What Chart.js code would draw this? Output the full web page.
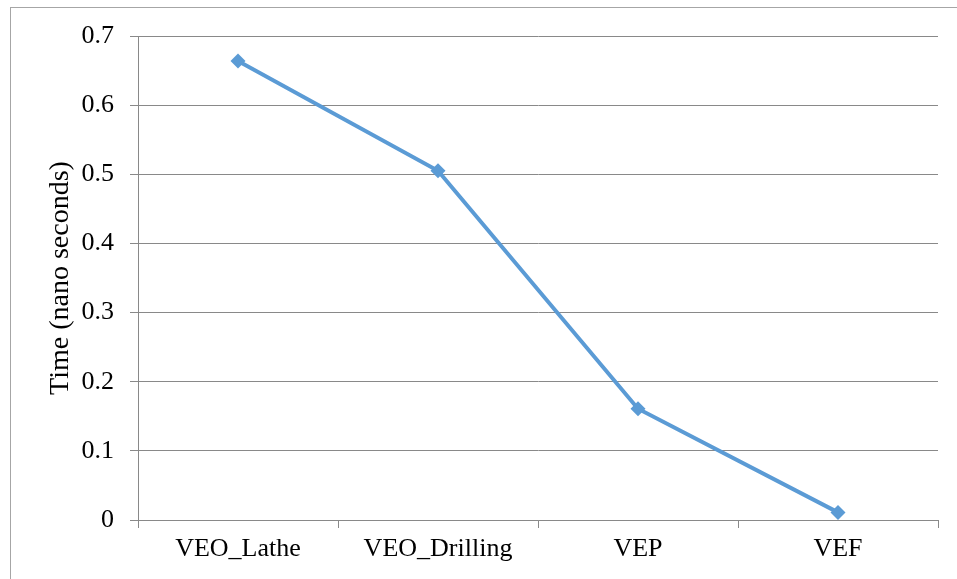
<!DOCTYPE html>
<html>
<head>
<meta charset="utf-8">
<script src="https://cdn.jsdelivr.net/npm/chart.js@4/dist/chart.umd.min.js"></script>
<style>
  html, body { margin: 0; padding: 0; background: #fff; }
  #wrap { width: 957px; height: 579px; position: relative; }
</style>
</head>
<body>
<div id="wrap"><canvas id="c" width="957" height="579"></canvas></div>
<script>
const categories = ["VEO_Lathe", "VEO_Drilling", "VEP", "VEF"];
const timeValues = [0.664, 0.505, 0.161, 0.011];
const yTickValues = [0, 0.1, 0.2, 0.3, 0.4, 0.5, 0.6, 0.7];
const yTickLabels = ["0", "0.1", "0.2", "0.3", "0.4", "0.5", "0.6", "0.7"];
const yTitle = "Time (nano seconds)";

const FONT = "'Liberation Serif', 'Times New Roman', serif";
const GRID = "#898989";
const LINE = "#5B9BD5";

const outerBorder = {
  id: 'outerBorder',
  beforeDraw(chart) {
    const ctx = chart.ctx;
    ctx.save();
    ctx.fillStyle = '#fff';
    ctx.fillRect(0, 0, chart.width, chart.height);
    ctx.strokeStyle = '#a6a6a6';
    ctx.lineWidth = 1;
    ctx.strokeRect(10.5, 7.5, 2000, 2000);
    ctx.restore();
  }
};

new Chart(document.getElementById('c'), {
  type: 'line',
  data: {
    labels: categories,
    datasets: [{
      data: timeValues,
      borderColor: LINE,
      backgroundColor: LINE,
      borderWidth: 4,
      tension: 0,
      pointStyle: 'rectRot',
      pointRadius: 7.5,
      pointBorderWidth: 0,
      pointBackgroundColor: LINE,
      fill: false
    }]
  },
  options: {
    responsive: false,
    devicePixelRatio: 1,
    animation: false,
    layout: { padding: { left: 0, top: 36, right: 19, bottom: 0 } },
    plugins: { legend: { display: false }, tooltip: { enabled: false } },
    scales: {
      x: {
        offset: true,
        grid: { display: true, offset: true, drawOnChartArea: false, drawTicks: true, tickLength: 8, color: GRID, lineWidth: 1 },
        border: { display: true, color: GRID, width: 1 },
        ticks: { color: '#000', font: { family: FONT, size: 26 }, padding: 6, maxRotation: 0, autoSkip: false },
        afterFit(scale) { scale.height = 59; }
      },
      y: {
        min: 0, max: 0.7,
        afterBuildTicks(scale) { scale.ticks = yTickValues.map(v => ({ value: v })); },
        grid: { color: GRID, lineWidth: 1, tickLength: 8, drawTicks: true },
        border: { display: true, color: GRID, width: 1 },
        ticks: {
          color: '#000', font: { family: FONT, size: 26 }, padding: 16,
          callback(value, index) { return yTickLabels[index]; }
        },
        title: {
          display: true, text: yTitle, color: '#000',
          font: { family: FONT, size: 28 },
          padding: { top: 44, bottom: 0 }
        },
        afterFit(scale) { scale.width = 138; }
      }
    }
  },
  plugins: [outerBorder]
});
</script>
</body>
</html>
